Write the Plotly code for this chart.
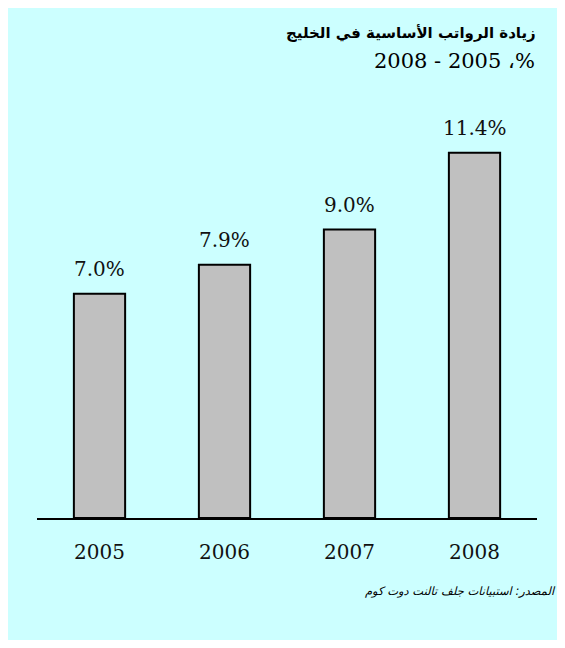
import plotly.graph_objects as go

years = ["2005", "2006", "2007", "2008"]
values = [7.0, 7.9, 9.0, 11.4]
value_labels = ["7.0%", "7.9%", "9.0%", "11.4%"]
title_text = "زيادة الرواتب الأساسية في الخليج"
subtitle_text = "2008 - 2005 ،%"
source_text = "المصدر: استبيانات جلف تالنت دوت كوم"

# page body has an 8px margin; all pixel targets below are shifted by -8
OFF = 8
W, H = 565, 648 - 2 * OFF
plot_w, plot_h = 500, 417
L, T = 37 - OFF, 101 - OFF
R = W - L - plot_w
B = H - T - plot_h
px_per_unit = 32.05
ymax = plot_h / px_per_unit

serif = "DejaVu Serif, Liberation Serif, serif"
arabic = "DejaVu Sans, Noto Sans, sans-serif"

fig = go.Figure()
fig.add_trace(go.Bar(
    x=list(range(len(years))), y=values,
    width=0.41,
    marker=dict(color="#C0C0C0", line=dict(color="black", width=2)),
    hoverinfo="skip",
))

for i, (v, lab) in enumerate(zip(values, value_labels)):
    fig.add_annotation(x=i, y=v, text=lab, showarrow=False, yanchor="middle",
                       yshift=25, font=dict(family=serif, size=20, color="#111111"))

def py2paper(py):
    return (H - B - (py - OFF)) / plot_h

def px2paper(px):
    return (px - OFF - L) / plot_w

fig.add_shape(type="rect", xref="paper", yref="paper", layer="below",
              x0=px2paper(6), x1=px2paper(600), y0=py2paper(660), y1=py2paper(4),
              fillcolor="#CCFFFF", line=dict(width=0))

fig.add_annotation(xref="paper", yref="paper", x=px2paper(538), y=py2paper(33),
                   xanchor="right", yanchor="middle", text="<b>" + title_text + "</b>",
                   showarrow=False, font=dict(family=arabic, size=15, color="black"))
fig.add_annotation(xref="paper", yref="paper", x=px2paper(537), y=py2paper(61),
                   xanchor="right", yanchor="middle", text=subtitle_text,
                   showarrow=False, font=dict(family=serif, size=21, color="black"))
fig.add_annotation(xref="paper", yref="paper", x=px2paper(558), y=py2paper(591),
                   xanchor="right", yanchor="middle", text="<i>" + source_text + "</i>",
                   showarrow=False, font=dict(family=arabic, size=11.5, color="black"))

fig.update_layout(
    width=W, height=H,
    margin=dict(l=L, r=R, t=T, b=B, pad=0),
    paper_bgcolor="white", plot_bgcolor="rgba(0,0,0,0)",
    showlegend=False,
    xaxis=dict(range=[-0.5, 3.5], tickvals=list(range(len(years))), ticktext=years,
               showline=True, linecolor="black", linewidth=2, ticks="",
               showgrid=False, zeroline=False, ticklabelstandoff=15,
               tickfont=dict(family=serif, size=20, color="#111111"), fixedrange=True),
    yaxis=dict(range=[0, ymax], visible=False, showgrid=False, zeroline=False, fixedrange=True),
)

fig.write_html("out.html")
